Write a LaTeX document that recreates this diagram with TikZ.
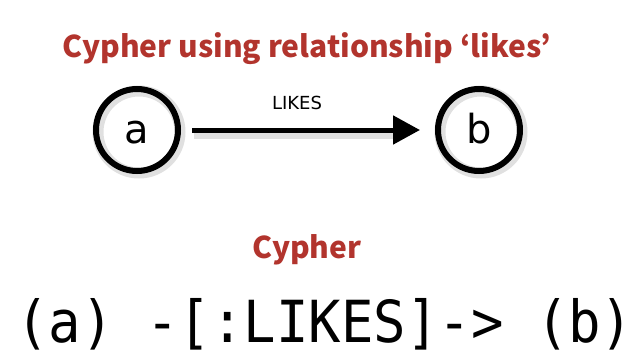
\documentclass[tikz,border=0pt]{standalone}
\usepackage{fontspec}
\usetikzlibrary{arrows.meta}
\newfontfamily\titlefont{Noto Sans CJK KR}
\newfontfamily\codefont{DejaVu Sans Mono}[FakeStretch=0.93]
\newfontfamily\labfont{DejaVu Sans}
\definecolor{titlered}{RGB}{178,52,45}
\tikzset{
  titletext/.style={text=titlered, font=\titlefont\bfseries\fontsize{30}{33}\selectfont, inner sep=0pt, anchor=base},
  circ/.style={circle, draw=black, line width=6pt, minimum size=82pt, inner sep=0pt,
    text height=26pt, text depth=0pt, font=\labfont\fontsize{40}{44}\selectfont},
  relabel/.style={font=\labfont\fontsize{18}{20}\selectfont, inner sep=0pt, anchor=base},
  codetext/.style={font=\codefont\fontsize{58}{62}\selectfont, inner sep=0pt, anchor=base},
  edge/.style={line width=5pt, -{Triangle[length=27pt,width=28pt]}},
  glow/.style={draw=black, opacity=0.12, line width=11pt}
}
\begin{document}
\begin{tikzpicture}[x=1pt,y=-1pt]
\useasboundingbox[fill=white] (0,0) rectangle (633,356);
% soft shadows
\draw[glow] (139,132) circle (41);
\draw[glow] (481,132) circle (41);
\draw[glow] (194,133) -- (395,133);
% content
\node[titletext] (title) at (307,57) {Cypher using relationship ‘likes’};
\node[circ] (a) at (137,130) {a};
\node[circ] (b) at (479,130) {b};
\draw[edge, shorten <=11pt, shorten >=15pt] (a) -- (b);
\node[relabel] (lk) at (297,109) {LIKES};
\node[titletext] (sub) at (307,258) {Cypher};
\node[codetext] (code) at (325,342) {(a) -[:LIKES]-> (b)};
\end{tikzpicture}
\end{document}
